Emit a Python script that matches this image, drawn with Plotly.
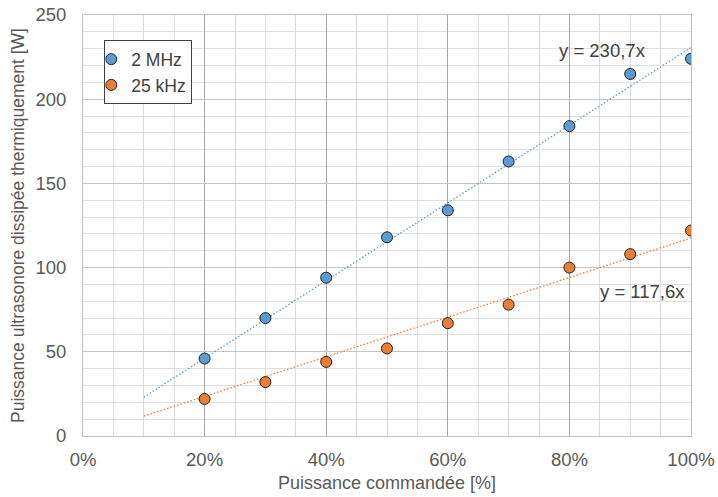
import plotly.graph_objects as go

# Data
x_pct = [0.2, 0.3, 0.4, 0.5, 0.6, 0.7, 0.8, 0.9, 1.0]
p_2mhz = [46, 70, 94, 118, 134, 163, 184, 215, 224]
p_25khz = [22, 32, 44, 52, 67, 78, 100, 108, 122]
slope_2mhz = 230.7
slope_25khz = 117.6
trend_x = [0.1, 1.0]
series_names = ["2 MHz", "25 kHz"]

blue = "#5B9BD5"
orange = "#ED7D31"
font_family = "Liberation Sans, Arial, sans-serif"
text_color = "#595959"

fig = go.Figure()

fig.add_trace(go.Scatter(x=trend_x, y=[slope_2mhz * v for v in trend_x], mode="lines",
                         line=dict(color=blue, width=1.3, dash="1.5px,2px"), showlegend=False, hoverinfo="skip"))
fig.add_trace(go.Scatter(x=trend_x, y=[slope_25khz * v for v in trend_x], mode="lines",
                         line=dict(color=orange, width=1.3, dash="1.5px,2px"), showlegend=False, hoverinfo="skip"))

fig.add_trace(go.Scatter(x=x_pct, y=p_2mhz, mode="markers", name=series_names[0],
                         marker=dict(color=blue, size=11, line=dict(color="#1f1f1f", width=1))))
fig.add_trace(go.Scatter(x=x_pct, y=p_25khz, mode="markers", name=series_names[1],
                         marker=dict(color=orange, size=11, line=dict(color="#1f1f1f", width=1))))

fig.add_annotation(x=0.855, y=229, xref="x", yref="y", text="y = 230,7x", showarrow=False,
                   font=dict(size=18.5, color="#404040", family=font_family))
fig.add_annotation(x=0.92, y=86, xref="x", yref="y", text="y = 117,6x", showarrow=False,
                   font=dict(size=18.5, color="#404040", family=font_family))

fig.update_layout(
    width=718, height=497,
    margin=dict(l=83, r=27, t=15, b=61),
    paper_bgcolor="white", plot_bgcolor="white",
    font=dict(family=font_family, color=text_color, size=18),
    legend=dict(x=0.035, y=0.94, xanchor="left", yanchor="top",
                bordercolor="#404040", borderwidth=1, bgcolor="white",
                font=dict(size=17.5, color="#404040"), itemwidth=30, indentation=-14,
                tracegroupgap=0),
    showlegend=True,
)

fig.update_xaxes(
    range=[0, 1], dtick=0.2, tick0=0, tickformat=".0%", automargin=False,
    showgrid=True, gridcolor="#a6a6a6", gridwidth=1,
    minor=dict(dtick=0.05, showgrid=True, gridcolor="#dcdcdc", gridwidth=1),
    showline=True, linecolor="#bfbfbf", mirror=True, zeroline=False,
    ticks="", tickfont=dict(size=18.5, color=text_color), ticklabelstandoff=7,
    title=dict(text="Puissance commandée [%]", font=dict(size=18, color=text_color), standoff=7),
)
fig.update_yaxes(
    range=[0, 250], dtick=50, tick0=0, automargin=False,
    showgrid=True, gridcolor="#c4c4c4", gridwidth=1,
    minor=dict(dtick=10, showgrid=True, gridcolor="#e0e0e0", gridwidth=1),
    showline=True, linecolor="#bfbfbf", mirror=True, zeroline=False,
    ticks="", tickfont=dict(size=18.5, color=text_color), ticklabelstandoff=12,
    title=dict(text="Puissance ultrasonore dissipée thermiquement [W]", font=dict(size=17.5, color=text_color), standoff=6),
)

fig.write_html("out.html", config={"displayModeBar": False},
               post_script="document.body.style.margin='0px';")
